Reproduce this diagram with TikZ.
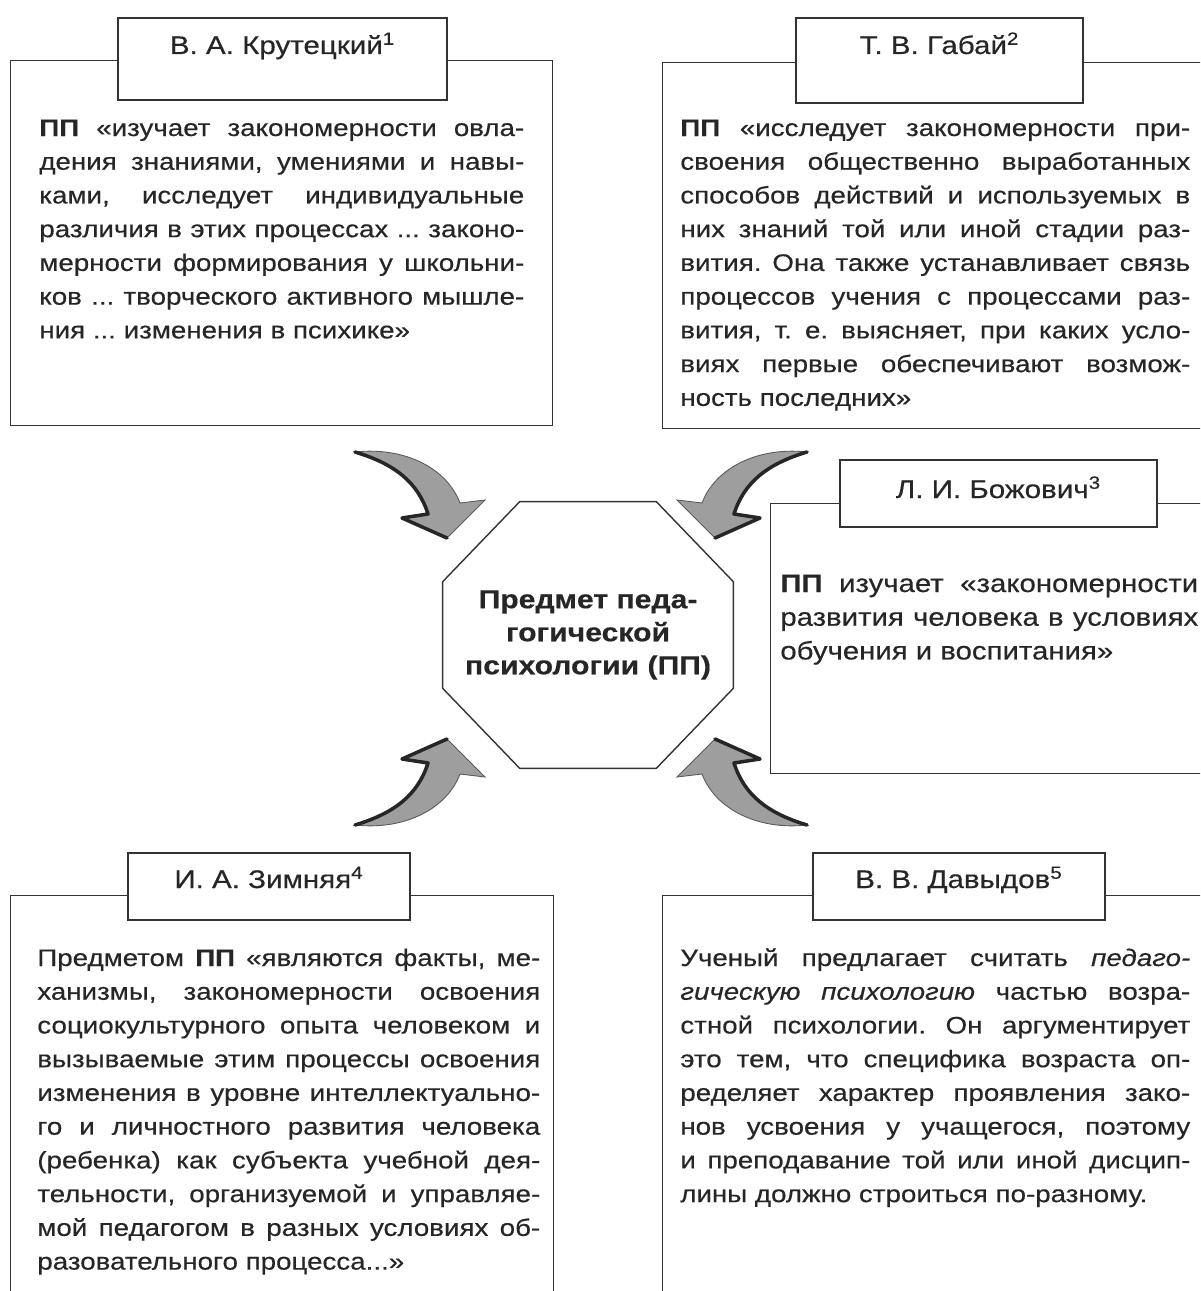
\documentclass[tikz,border=0pt]{standalone}
\usepackage{fontspec}
\setmainfont{Liberation Sans}[FakeStretch=1.16, FakeBold=0.4]
\usepackage{xcolor}
\usepackage{tikz}
\usetikzlibrary{calc}

% one justified line of a quotation
\newlength{\qwidth}
\newcommand{\jline}[1]{\makebox[\qwidth][s]{#1}\\}
\frenchspacing

\begin{document}
\begin{tikzpicture}[
  x=0.02cm, y=-0.02cm,
  frame/.style={rectangle, draw=black!80, line width=0.8pt, fill=white, anchor=north west, inner sep=0pt},
  titlebox/.style={rectangle, draw=black!80, line width=1pt, fill=white, anchor=base, inner sep=0pt, font=\fontsize{14.5}{17}\selectfont, text=black!85},
  body/.style={anchor=base west, inner sep=0pt, text width=#1, align=justify, font=\fontsize{13.6}{19.2}\selectfont, text=black!85, execute at begin node={\setlength{\qwidth}{#1}}},
  core/.style={rectangle, minimum width=5.8cm, minimum height=5.32cm, align=center, font=\bfseries\fontsize{14.8}{18.8}\selectfont, text=black!85},
  octline/.style={draw=black!80, line width=0.8pt},
  arrowfill/.style={fill=black!38, draw=black!65, line width=0.5pt},
  arrowrim/.style={draw=black!85, line width=2pt, line cap=round, line join=round},
  pics/bendarrow/.style={code={
    \filldraw[arrowfill] (-226,-186.5) .. controls (-176,-192) and (-134,-170) .. (-121,-135.5)
      -- (-96,-138.5) -- (-134,-100.5) -- (-179,-120.5) -- (-153,-124.5)
      .. controls (-163,-156) and (-186,-174.5) .. cycle;
    \draw[arrowrim] (-226,-186.5) .. controls (-186,-174.5) and (-163,-156) .. (-153,-124.5)
      -- (-179,-120.5) -- (-134,-100.5);
  }}
]
  \useasboundingbox (0,0) rectangle (1200,1291);
  \clip (0,0) rectangle (1200,1291);

  % frames
  \node[frame, minimum width=10.84cm, minimum height=7.3cm] (kr) at (10,60) {};
  \node[frame, minimum width=11.16cm, minimum height=7.32cm] (gab) at (662,62) {};
  \node[frame, minimum width=9cm, minimum height=5.4cm] (boz) at (770,503) {};
  \node[frame, minimum width=10.86cm, minimum height=8.3cm] (zim) at (10,895) {};
  \node[frame, minimum width=11.16cm, minimum height=8.3cm] (dav) at (662,895) {};

  % titles
  \node[titlebox, minimum width=6.58cm, text height=0.72cm, text depth=0.92cm] (kr-t) at (282.5,54) {В. А. Крутецкий\textsuperscript{1}};
  \node[titlebox, minimum width=5.74cm, text height=0.72cm, text depth=0.98cm] (gab-t) at (939.5,54) {Т. В. Габай\textsuperscript{2}};
  \node[titlebox, minimum width=6.34cm, text height=0.76cm, text depth=0.58cm] (boz-t) at (998.5,498) {Л. И. Божович\textsuperscript{3}};
  \node[titlebox, minimum width=5.64cm, text height=0.7cm, text depth=0.64cm] (zim-t) at (269,888) {И. А. Зимняя\textsuperscript{4}};
  \node[titlebox, minimum width=5.84cm, text height=0.7cm, text depth=0.64cm] (dav-t) at (959,888) {В. В. Давыдов\textsuperscript{5}};

  % quotations
  \node[body=9.7cm] (kr-x) at (39,136) {%
    \jline{\textbf{ПП} «изучает закономерности овла-}%
    \jline{дения знаниями, умениями и навы-}%
    \jline{ками, исследует индивидуальные}%
    \jline{различия в этих процессах ... законо-}%
    \jline{мерности формирования у школьни-}%
    \jline{ков ... творческого активного мышле-}%
    ния ... изменения в психике»};
  \node[body=10.2cm] (gab-x) at (680,136) {%
    \jline{\textbf{ПП} «исследует закономерности при-}%
    \jline{своения общественно выработанных}%
    \jline{способов действий и используемых в}%
    \jline{них знаний той или иной стадии раз-}%
    \jline{вития. Она также устанавливает связь}%
    \jline{процессов учения с процессами раз-}%
    \jline{вития, т. е. выясняет, при каких усло-}%
    \jline{виях первые обеспечивают возмож-}%
    ность последних»};
  \node[body=8.36cm, font=\fontsize{14.4}{19.2}\selectfont] (boz-x) at (780,592) {%
    \jline{\textbf{ПП} изучает «закономерности}%
    \jline{развития человека в условиях}%
    обучения и воспитания»};
  \node[body=10.06cm] (zim-x) at (37,966) {%
    \jline{Предметом \textbf{ПП} «являются факты, ме-}%
    \jline{ханизмы, закономерности освоения}%
    \jline{социокультурного опыта человеком и}%
    \jline{вызываемые этим процессы освоения}%
    \jline{изменения в уровне интеллектуально-}%
    \jline{го и личностного развития человека}%
    \jline{(ребенка) как субъекта учебной дея-}%
    \jline{тельности, организуемой и управляе-}%
    \jline{мой педагогом в разных условиях об-}%
    разовательного процесса...»};
  \node[body=10.2cm] (dav-x) at (680,966) {%
    \jline{Ученый предлагает считать \textit{педаго-}}%
    \jline{\textit{гическую психологию} частью возра-}%
    \jline{стной психологии. Он аргументирует}%
    \jline{это тем, что специфика возраста оп-}%
    \jline{ределяет характер проявления зако-}%
    \jline{нов усвоения у учащегося, поэтому}%
    \jline{и преподавание той или иной дисцип-}%
    лины должно строиться по-разному.};

  % subject in the middle
  \node[core] (subj) at (588,635) {Предмет педа-\\гогической\\психологии (ПП)};
  \draw[octline] ($(subj.north west)+(77,0)$) -- ($(subj.north east)+(-77,0)$)
    -- ($(subj.north east)+(0,80)$) -- ($(subj.south east)+(0,-80)$)
    -- ($(subj.south east)+(-77,0)$) -- ($(subj.south west)+(77,0)$)
    -- ($(subj.south west)+(0,-80)$) -- ($(subj.north west)+(0,80)$) -- cycle;

  % four bent arrows
  \coordinate (hub) at ($(subj.center)+(-7,3.5)$);
  \pic at (hub) {bendarrow};
  \pic[xscale=-1] at (hub) {bendarrow};
  \pic[yscale=-1] at (hub) {bendarrow};
  \pic[xscale=-1, yscale=-1] at (hub) {bendarrow};
\end{tikzpicture}
\end{document}
